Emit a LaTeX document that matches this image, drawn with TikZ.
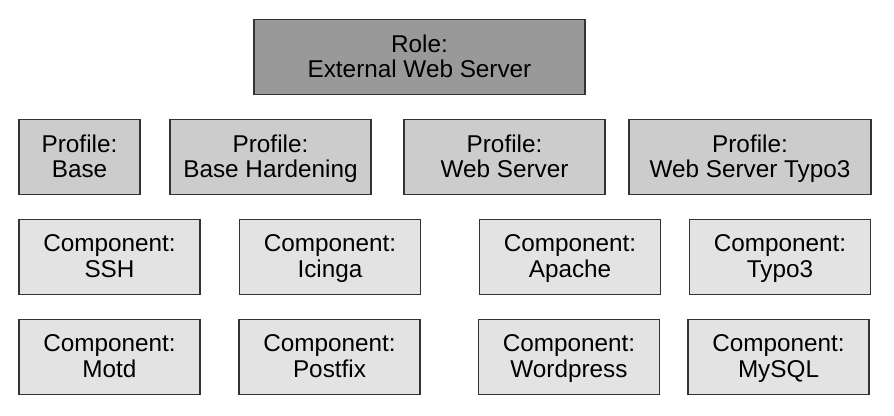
\documentclass[tikz,border=0pt]{standalone}
\usepackage{fontspec}
\setmainfont{Liberation Sans}
\usetikzlibrary{positioning}
\definecolor{rolegray}{HTML}{999999}
\definecolor{profgray}{HTML}{CCCCCC}
\definecolor{compgray}{HTML}{E3E3E3}
\definecolor{edgegray}{HTML}{333333}
\tikzset{
  box/.style={draw=edgegray, line width=1.6pt, align=center,
    inner sep=0pt, minimum height=75, text depth=2pt,
    font=\fontsize{24.3}{25.5}\selectfont},
  role/.style={box, fill=rolegray},
  profile/.style={box, fill=profgray},
  component/.style={box, fill=compgray, minimum width=181}
}
\begin{document}
\begin{tikzpicture}[x=1pt,y=-1pt]
\useasboundingbox (0,0) rectangle (894,415);
\node[role, minimum width=331] (role) at (419.5,57)
  {Role:\\External Web Server};
\foreach \n/\x/\w/\lbl in {base/79.5/121/Base,
    hardening/270.5/201/Base Hardening,
    webserver/504.5/201/Web Server,
    webtypo/750/242/Web Server Typo3}
  \node[profile, minimum width=\w] (\n) at (\x,157) {Profile:\\\lbl};
\foreach \n/\x/\lbl in {ssh/109.5/SSH,icinga/330/Icinga,
    apache/570/Apache,typo/780/Typo3}
  \node[component] (\n) at (\x,257) {Component:\\\lbl};
\foreach \n/\x/\lbl in {motd/109.5/Motd,postfix/329.5/Postfix,
    wordpress/569/Wordpress,mysql/778.5/MySQL}
  \node[component] (\n) at (\x,357) {Component:\\\lbl};
\end{tikzpicture}
\end{document}
